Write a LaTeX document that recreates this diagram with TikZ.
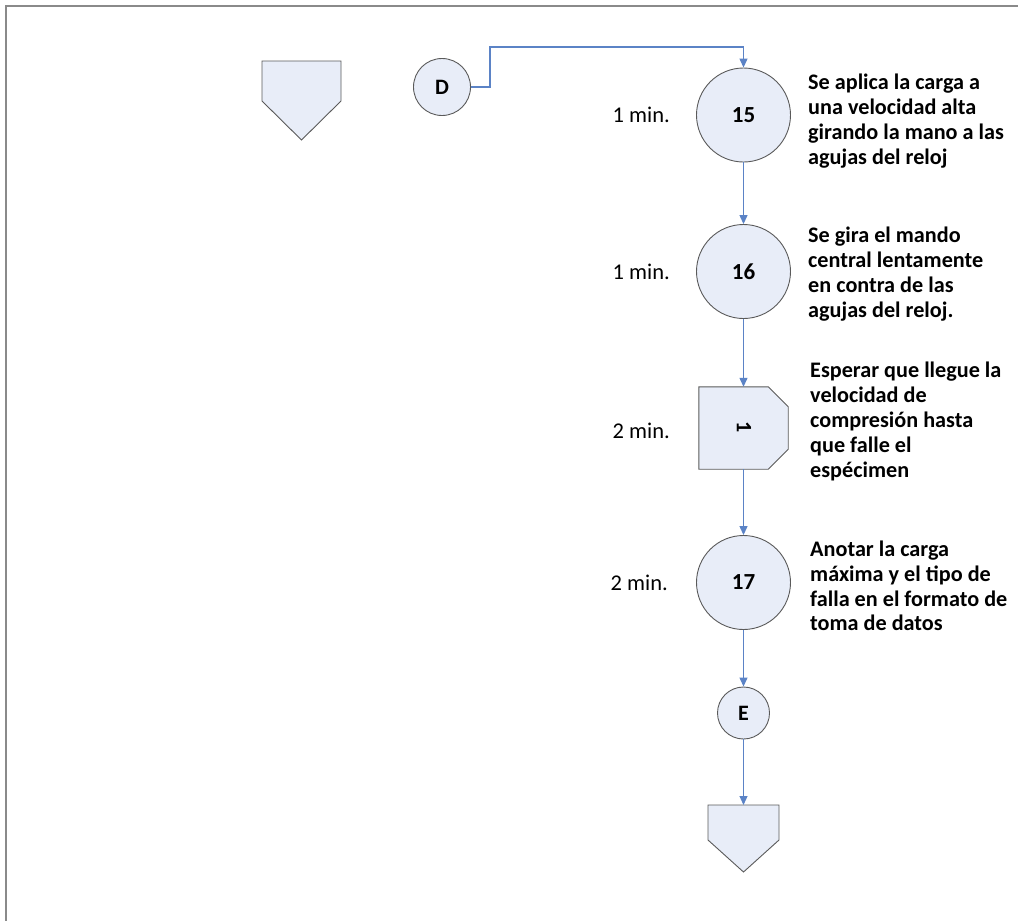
\documentclass[tikz,border=0pt]{standalone}
\usepackage{fontspec}
\setmainfont{Carlito}
\usetikzlibrary{arrows.meta}
\definecolor{lineblue}{HTML}{5B83C6}
\definecolor{nodefill}{HTML}{E8EDF8}
\definecolor{nodeline}{HTML}{5A5A5A}
\definecolor{framegray}{HTML}{8A8A8A}
\tikzset{
  opcircle/.style={circle, draw=nodeline, fill=nodefill, line width=0.9pt, inner sep=0pt, minimum size=94pt, font=\fontsize{23}{26}\selectfont\bfseries},
  concircle/.style={circle, draw=nodeline, fill=nodefill, line width=0.9pt, inner sep=0pt, minimum size=54pt, font=\fontsize{22}{26}\selectfont\bfseries},
  shapeline/.style={draw=nodeline, fill=nodefill, line width=0.9pt, line join=miter},
  flow/.style={draw=lineblue, line width=1.2pt, -{Triangle[length=9pt,width=8pt]}},
  timelabel/.style={anchor=east, inner sep=0pt, font=\fontsize{22.5}{26}\selectfont},
  desc/.style={anchor=west, inner sep=0pt, align=left, font=\fontsize{22.2}{24.8}\selectfont\bfseries},
}
\begin{document}
\begin{tikzpicture}[x=1pt,y=-1pt]
\useasboundingbox (0,0) rectangle (1018,921);
% frame (only top and left visible)
\draw[framegray, line width=2pt] (1018,6) -- (6,6) -- (6,921);

% left off-page connector
\path[shapeline] (262,61) -- (341,61) -- (341,101) -- (301.5,140) -- (262,101) -- cycle;

% connector D
\node[concircle, minimum size=57pt] (D) at (442,87) {D};

% operation 15
\node[opcircle] (n15) at (743.5,115) {15};
\node[timelabel] (t15) at (670,115) {1 min.};
\node[desc] (d15) at (808,121) {Se aplica la carga a\\una velocidad alta\\girando la mano a las\\agujas del reloj};

% operation 16
\node[opcircle] (n16) at (743.5,271.5) {16};
\node[timelabel] (t16) at (670,272) {1 min.};
\node[desc] (d16) at (808,274) {Se gira el mando\\central lentamente\\en contra de las\\agujas del reloj.};

% delay 1
\node[minimum width=89pt, minimum height=82pt, inner sep=0pt] (dl) at (743.5,428) {};
\path[shapeline] (dl.north west) -- ([xshift=-20pt]dl.north east) -- ([yshift=-20pt]dl.north east)
  -- ([yshift=20pt]dl.south east) -- ([xshift=-20pt]dl.south east) -- (dl.south west) -- cycle;
\node[rotate=-90, font=\fontsize{22}{26}\selectfont\bfseries, inner sep=0pt] (dlabel) at (744,427.5) {1};
\node[timelabel] (tdl) at (670,431) {2 min.};
\node[desc] (ddl) at (810,421.5) {Esperar que llegue la\\velocidad de\\compresión hasta\\que falle el\\espécimen};

% operation 17
\node[opcircle] (n17) at (743.5,582.5) {17};
\node[timelabel] (t17) at (668,583) {2 min.};
\node[desc] (d17) at (810,586) {Anotar la carga\\máxima y el tipo de\\falla en el formato de\\toma de datos};

% connector E
\node[concircle, minimum size=52pt] (E) at (743.5,713) {E};

% bottom off-page connector
\coordinate (ptop) at (743.5,805);
\path[shapeline] (708,805) -- (779,805) -- (779,840) -- (743.5,872) -- (708,840) -- cycle;

% flows
\coordinate (c1) at (490,87);
\coordinate (c2) at (490,47);
\coordinate (c3) at (743.5,47);
\draw[flow] (D.east) -- (c1) -- (c2) -- (c3) -- (n15.north);
\draw[flow] (n15.south) -- (n16.north);
\draw[flow] (n16.south) -- (dl.north);
\draw[flow] (dl.south) -- (n17.north);
\draw[flow] (n17.south) -- (E.north);
\draw[flow] (E.south) -- (ptop);
\end{tikzpicture}
\end{document}
